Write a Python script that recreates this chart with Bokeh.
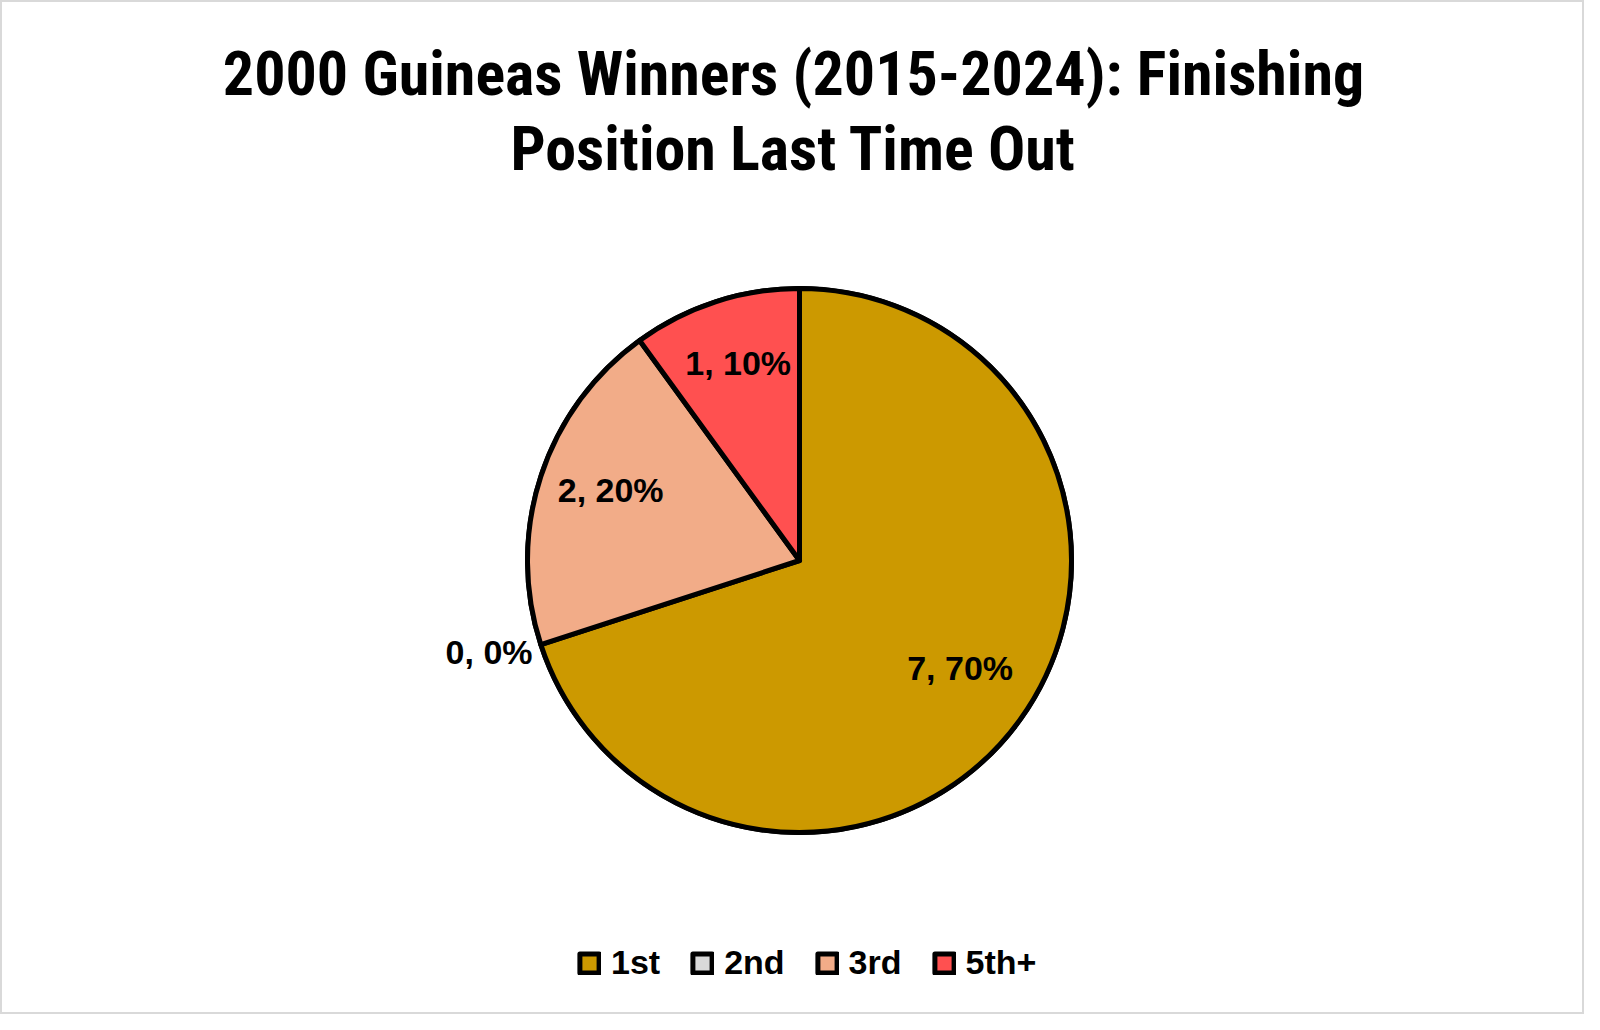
import math
from bokeh.plotting import figure
from bokeh.models import ColumnDataSource, Label, Legend, LegendItem, Range1d
from bokeh.core.properties import value
from bokeh.embed import file_html
from bokeh.resources import INLINE

# ---- data ----
categories = ["1st", "2nd", "3rd", "5th+"]
counts = [7, 0, 2, 1]
colors = ["#CC9900", "#D9D9D9", "#F2AC88", "#FF5050"]
title_lines = ["2000 Guineas Winners (2015-2024): Finishing", "Position Last Time Out"]

W, H = 1584, 1014
CX, CY, R = 799, 454, 272

total = sum(counts)
starts, ends, lx, ly, labels = [], [], [], [], []
acc = 0.0
for c in counts:
    a0 = math.pi / 2 - 2 * math.pi * acc / total
    acc += c
    a1 = math.pi / 2 - 2 * math.pi * acc / total
    starts.append(a0)
    ends.append(a1)
    mid = (a0 + a1) / 2
    rf = 0.73 if c > 0 else 1.2
    lx.append(CX + rf * R * math.cos(mid))
    ly.append(CY + rf * R * math.sin(mid))
    labels.append(f"{c}, {round(100 * c / total)}%")

p = figure(width=W, height=H, output_backend="svg", toolbar_location=None,
           x_range=Range1d(0, W), y_range=Range1d(0, H), min_border=0,
           x_axis_type=None, y_axis_type=None)
p.grid.visible = False
p.background_fill_color = "white"
p.border_fill_color = "white"
p.outline_line_color = "#D9D9D9"
p.outline_line_width = 3

# draw zero-valued slices first so that the non-zero slices sit on top
order = sorted(range(len(categories)), key=lambda i: counts[i] > 0)
renderers = {}
for i in order:
    src = ColumnDataSource(dict(x=[CX], y=[CY], s=[starts[i]], e=[ends[i]]))
    renderers[i] = p.wedge(x="x", y="y", radius=R, start_angle="s", end_angle="e",
                           direction="clock", source=src, fill_color=colors[i],
                           line_color="black", line_width=5, line_join="round")
items = [LegendItem(label=cat, renderers=[renderers[i]]) for i, cat in enumerate(categories)]

lsrc = ColumnDataSource(dict(x=lx, y=ly, t=labels))
p.text(x="x", y="y", text="t", source=lsrc, text_align="center",
       text_baseline="middle", y_offset=-9, text_font=value("Liberation Sans"),
       text_font_style="bold", text_font_size="34px", text_color="black")

for i, line in enumerate(title_lines):
    p.add_layout(Label(x=W / 2 + 1, y=H - 73 - 75 * i, x_units="screen", y_units="screen",
                       text=line, text_align="center", text_baseline="middle",
                       text_font="Liberation Sans Narrow, Roboto Condensed, Liberation Sans",
                       text_font_style="bold", text_font_size="62px", text_color="black"))

legend = Legend(items=items, orientation="horizontal", location=(577, 32),
                glyph_width=24, glyph_height=24, label_text_font_size="34px",
                label_text_font="Liberation Sans", label_text_font_style="bold",
                label_text_color="black",
                label_standoff=10, spacing=30, padding=4, margin=0,
                border_line_color=None, background_fill_alpha=0)
p.add_layout(legend, "center")

open("out.html", "w").write(file_html(p, INLINE))
